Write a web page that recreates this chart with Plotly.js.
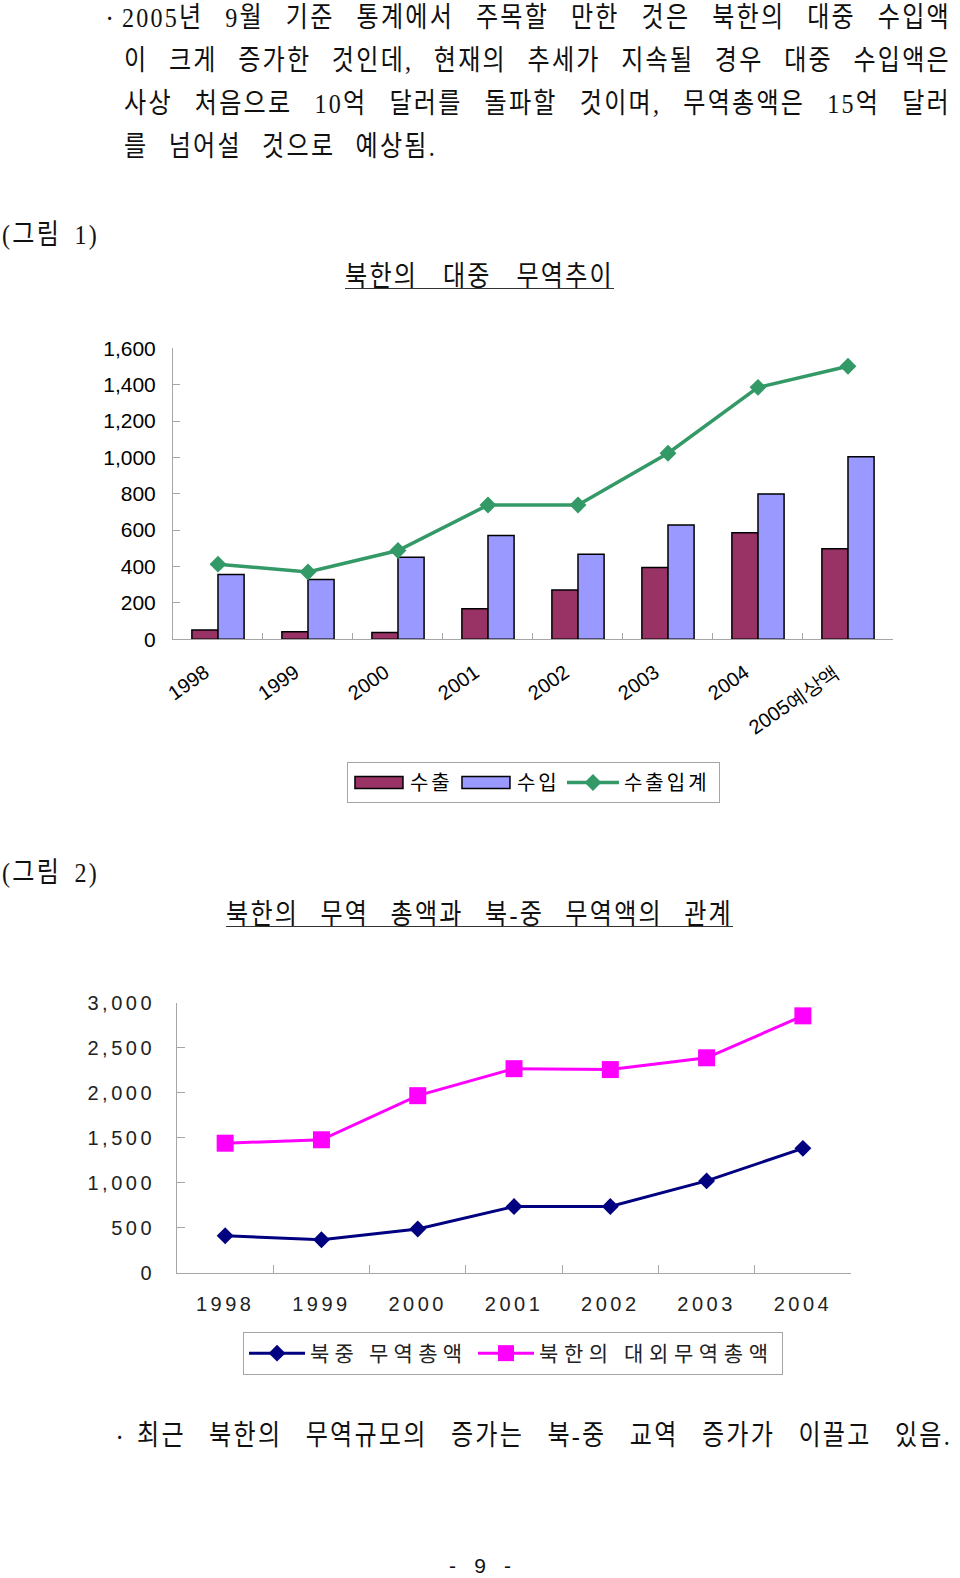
<!DOCTYPE html>
<html>
<head>
<meta charset="utf-8">
<script src="https://cdn.plot.ly/plotly-3.0.1.min.js"></script>
<style>
  html, body { margin:0; padding:0; background:#fff; }
  #page { position:relative; width:960px; height:1578px; overflow:hidden; }
  #chart { position:absolute; left:0; top:0; width:960px; height:1578px; }
  .t { position:absolute; height:30px; z-index:5; }
  .t .in { font-family:"Liberation Serif","Noto Sans CJK KR",serif; font-size:28px; line-height:30px;
       height:30px; color:#111; text-align:justify; text-align-last:justify; letter-spacing:2.6px;
       word-break:keep-all; transform-origin:0 0; }
  .dot { position:absolute; font-family:"Noto Sans CJK KR",sans-serif; font-size:24px; line-height:30px; color:#111; z-index:5; }
  .ul { position:absolute; height:0; border-top:1.5px solid #333; z-index:5; }
  .pg { position:absolute; font-family:"Liberation Sans",sans-serif; font-size:21px; line-height:30px; height:30px;
        text-align:justify; text-align-last:justify; color:#111; z-index:5; }
  .x2tick text, .y2tick text { letter-spacing:3.5px; }
  .legendtext { letter-spacing:3px; }
</style>
</head>
<body>
<div id="page">
  <div id="chart"></div>
  <div class="dot" style="left:103px;top:2px;">·</div>
  <div class="t" data-l="122" data-c="15.5" data-w="829">2005년 9월 기준 통계에서 주목할 만한 것은 북한의 대중 수입액</div>
  <div class="t" data-l="124" data-c="58.5" data-w="827">이 크게 증가한 것인데, 현재의 추세가 지속될 경우 대중 수입액은</div>
  <div class="t" data-l="124" data-c="102" data-w="827">사상 처음으로 10억 달러를 돌파할 것이며, 무역총액은 15억 달러</div>
  <div class="t" data-l="124" data-c="145" data-w="313">를 넘어설 것으로 예상됨.</div>
  <div class="t" data-l="2" data-c="233" data-w="97">(그림 1)</div>
  <div class="t" data-l="345" data-c="275" data-w="269">북한의 대중 무역추이</div>
  <div class="ul" style="left:345px;top:288px;width:269px;"></div>
  <div class="t" data-l="2" data-c="871" data-w="97">(그림 2)</div>
  <div class="t" data-l="226" data-c="913" data-w="507">북한의 무역 총액과 북-중 무역액의 관계</div>
  <div class="ul" style="left:226px;top:926px;width:507px;"></div>
  <div class="dot" style="left:113px;top:1421px;">·</div>
  <div class="t" data-l="137" data-c="1434" data-w="815">최근 북한의 무역규모의 증가는 북-중 교역 증가가 이끌고 있음.</div>
  <div class="pg" style="left:449px;top:1551px;width:62px;">- 9 -</div>
</div>
<script>
// ---- Figure 1 data: North Korea - China trade (million USD) ----
const years1 = ['1998', '1999', '2000', '2001', '2002', '2003', '2004', '2005예상액'];
const exports1 = [51, 41, 37, 167, 271, 395, 586, 497];
const imports1 = [356, 329, 451, 571, 467, 628, 799, 1004];
const totals1 = [413, 370, 488, 738, 738, 1023, 1385, 1501];
const names1 = ['수출', '수입', '수출입계'];

// ---- Figure 2 data ----
const years2 = ['1998', '1999', '2000', '2001', '2002', '2003', '2004'];
const nkChinaTrade = [413, 370, 488, 738, 738, 1023, 1385];
const nkTotalTrade = [1442, 1480, 1970, 2270, 2260, 2391, 2857];
const names2 = ['북중 무역총액', '북한의 대외무역총액'];
const legend2TextLengths = [152, 229];   // spread-out legend text widths (px) as in the reference

// ---- text lines: condensed (narrow) Korean body text, justified to their measured widths ----
const SX = 0.86;
document.querySelectorAll('.t').forEach(function (el) {
  const l = parseFloat(el.dataset.l), c = parseFloat(el.dataset.c), w = parseFloat(el.dataset.w);
  el.style.left = l + 'px';
  el.style.top = (c - 13) + 'px';
  el.style.width = w + 'px';
  const inner = document.createElement('div');
  inner.className = 'in';
  inner.textContent = el.textContent;
  inner.style.width = (w / SX) + 'px';
  inner.style.transform = 'scaleX(' + SX + ')';
  el.textContent = '';
  el.appendChild(inner);
});

const gray = '#a6a6a6';
const traces = [
  { type:'bar', name:names1[0], x:years1, y:exports1, xaxis:'x', yaxis:'y', legendwidth:40,
    marker:{color:'#993366', line:{color:'#000', width:1.5}}, legend:'legend' },
  { type:'bar', name:names1[1], x:years1, y:imports1, xaxis:'x', yaxis:'y', legendwidth:40,
    marker:{color:'#9999FF', line:{color:'#000', width:1.5}}, legend:'legend' },
  { type:'scatter', mode:'lines+markers', name:names1[2], x:years1, y:totals1, xaxis:'x', yaxis:'y', legendwidth:90,
    line:{color:'#339966', width:3.5}, marker:{symbol:'diamond', size:13, color:'#339966'}, legend:'legend' },
  { type:'scatter', mode:'lines+markers', name:names2[0], x:years2, y:nkChinaTrade, xaxis:'x2', yaxis:'y2', legendwidth:158,
    line:{color:'#000080', width:3}, marker:{symbol:'diamond', size:13, color:'#000080'}, legend:'legend2' },
  { type:'scatter', mode:'lines+markers', name:names2[1], x:years2, y:nkTotalTrade, xaxis:'x2', yaxis:'y2', legendwidth:238,
    line:{color:'#FF00FF', width:3}, marker:{symbol:'square', size:17, color:'#FF00FF'}, legend:'legend2' }
];

const axBase = { showline:true, linecolor:gray, linewidth:1, showgrid:false, zeroline:false,
                 ticks:'inside', tickcolor:gray, fixedrange:true };

const layout = {
  width:960, height:1578, margin:{l:0, r:0, t:0, b:0},
  paper_bgcolor:'#ffffff', plot_bgcolor:'rgba(0,0,0,0)',
  font:{family:'"Liberation Sans", Arial, sans-serif', size:20, color:'#000'},
  barmode:'group', bargap:0.42, bargroupgap:0,
  showlegend:true,
  xaxis:Object.assign({}, axBase, { domain:[0.1802, 0.9302], anchor:'y', type:'category', range:[-0.5, 7.5],
    tickson:'boundaries', ticklen:6, tickangle:-35, tickfont:{size:20}, ticklabelstandoff:13, ticklabelshift:-13 }),
  yaxis:Object.assign({}, axBase, { domain:[0.5949, 0.7793], anchor:'x', range:[0, 1600], dtick:200,
    tickformat:',', ticklen:7, tickfont:{size:21}, ticklabelstandoff:12 }),
  xaxis2:Object.assign({}, axBase, { domain:[0.1844, 0.8865], anchor:'y2', type:'category', range:[-0.5, 6.5],
    tickson:'boundaries', ticklen:8, tickangle:0, tickfont:{size:20, color:'#222'}, ticklabelstandoff:13 }),
  yaxis2:Object.assign({}, axBase, { domain:[0.1933, 0.3644], anchor:'x2', range:[0, 3000], dtick:500,
    tickformat:',', ticklen:8, tickfont:{size:20, color:'#222'}, ticklabelstandoff:17 }),
  legend:{ x:0.5557, xanchor:'center', y:0.5171, yanchor:'top', orientation:'h',
    bordercolor:gray, borderwidth:1, bgcolor:'#fff', itemwidth:52, traceorder:'normal',
    font:{family:'"Noto Sans CJK KR", sans-serif', size:20, color:'#000'} },
  legend2:{ x:0.5344, xanchor:'center', y:0.1559, yanchor:'top', orientation:'h',
    bordercolor:gray, borderwidth:1, bgcolor:'#fff', itemwidth:56, traceorder:'normal',
    font:{family:'"Noto Sans CJK KR", sans-serif', size:21, color:'#222'} }
};

const squash = function (s) { return (s || '').replace(/[\s\u00a0\u2000-\u200b]/g, ''); };
const names2Key = names2.map(squash);

function styleLegends(gd) {
  // Excel-style wide legend swatches for the bar series
  gd.querySelectorAll('g.traces').forEach(function (g) {
    const d = g.__data__;
    const tr = d && d[0] && d[0].trace;
    if (tr && tr.type === 'bar') {
      g.querySelectorAll('.legendpoints path').forEach(function (p) {
        p.setAttribute('d', 'M24,6H-24V-6H24Z');
      });
    }
  });
  // spread the figure-2 legend text like the reference (any svg text element carrying those names)
  document.querySelectorAll('#chart svg text').forEach(function (t) {
    const i = names2Key.indexOf(squash(t.textContent));
    if (i >= 0) {
      t.style.letterSpacing = '0px';
      t.setAttribute('textLength', String(legend2TextLengths[i]));
      t.setAttribute('lengthAdjust', 'spacing');
    }
  });
}

const gdiv = document.getElementById('chart');
Plotly.newPlot(gdiv, traces, layout, {staticPlot:true, displayModeBar:false}).then(function (gd) {
  styleLegends(gd);
  gd.on('plotly_afterplot', function () { styleLegends(gd); });
  setTimeout(function () { styleLegends(gd); }, 30);
  setTimeout(function () { styleLegends(gd); }, 200);
});
</script>
</body>
</html>
